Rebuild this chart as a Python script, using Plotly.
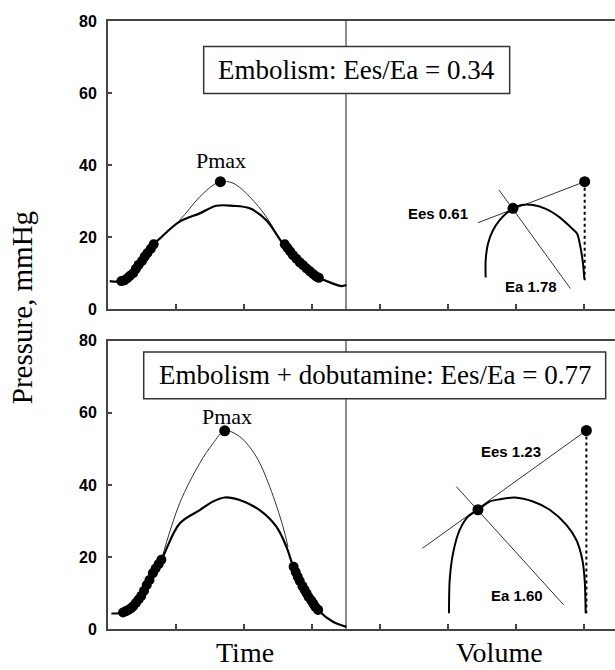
import plotly.graph_objects as go

# ---------------- data (x in axis units: left half = time, right half = volume) -------------
# Top panel: Embolism
top_meas_x = [0.025, 0.197, 0.368, 0.515, 0.672, 0.760, 1.054, 1.349, 1.594, 1.834, 2.084, 2.329, 2.574,
              2.599, 2.721, 2.868, 3.015, 3.103, 3.309, 3.432, 3.506]
top_meas_p = [7.8, 7.8, 9.9, 13.6, 18.0, 19.6, 24.3, 26.6, 28.7, 28.7, 28.0, 24.7, 18.2,
              18.0, 15.0, 12.2, 9.7, 8.7, 7.1, 6.4, 6.7]
top_model_x = [0.760, 1.054, 1.349, 1.544, 1.653, 1.838, 2.084, 2.329, 2.476]
top_model_p = [19.6, 24.7, 31.2, 34.4, 35.4, 35.0, 31.2, 25.6, 21.0]
top_dots_up_x = [0.197, 0.24, 0.28, 0.32, 0.37, 0.41, 0.45, 0.50, 0.54, 0.58, 0.63, 0.672]
top_dots_up_p = [7.8, 8.0, 8.5, 9.2, 10.0, 11.2, 12.3, 13.4, 14.6, 15.6, 16.8, 18.0]
top_dots_dn_x = [2.60, 2.64, 2.68, 2.72, 2.77, 2.82, 2.87, 2.92, 2.97, 3.02, 3.06, 3.10]
top_dots_dn_p = [18.0, 17.0, 16.0, 15.0, 14.0, 13.0, 12.2, 11.3, 10.5, 9.7, 9.1, 8.7]
top_pmax = (1.653, 35.4)
top_loop_v = [5.554, 5.554, 5.588, 5.662, 5.760, 5.859, 5.956, 6.079, 6.250, 6.447, 6.643, 6.790,
              6.897, 6.947, 6.985, 7.005]
top_loop_p = [8.8, 13.6, 18.2, 21.9, 24.7, 26.6, 28.0, 28.9, 28.9, 27.8, 25.5, 23.0, 21.0, 17.3, 12.7, 8.5]
top_esp = (5.956, 28.0)
top_ved_pmax = (7.010, 35.4)
top_ved_bottom = 8.0
top_ees_line = ([5.441, 7.010], [24.0, 35.4])
top_ea_line = ([5.750, 6.800], [33.1, 5.75])

# Bottom panel: Embolism + dobutamine
bot_meas_x = [0.05, 0.221, 0.368, 0.515, 0.662, 0.785, 1.054, 1.349, 1.544, 1.716, 1.937, 2.231, 2.476,
              2.624, 2.721, 2.819, 2.918, 3.015, 3.088, 3.309, 3.506]
bot_meas_p = [4.3, 4.6, 6.2, 9.9, 15.5, 19.2, 29.3, 33.0, 35.4, 36.5, 35.8, 33.0, 28.4,
              22.8, 17.5, 13.6, 9.9, 7.1, 5.3, 2.0, 0.6]
bot_model_x = [0.785, 1.054, 1.349, 1.544, 1.716, 1.937, 2.182, 2.378, 2.574, 2.647]
bot_model_p = [19.2, 34.9, 46.0, 51.5, 55.0, 53.4, 47.8, 39.5, 28.4, 22.8]
bot_dots_up_x = [0.221, 0.26, 0.30, 0.34, 0.37, 0.41, 0.45, 0.49, 0.53, 0.57, 0.61, 0.66, 0.70, 0.745, 0.785]
bot_dots_up_p = [4.6, 4.9, 5.3, 5.8, 6.3, 7.2, 8.2, 9.2, 10.6, 12.2, 13.6, 15.5, 16.8, 18.0, 19.2]
bot_dots_dn_x = [2.73, 2.76, 2.79, 2.82, 2.86, 2.89, 2.92, 2.95, 2.99, 3.02, 3.05, 3.09]
bot_dots_dn_p = [17.3, 15.8, 14.5, 13.3, 11.9, 10.9, 9.9, 8.9, 7.9, 7.0, 6.1, 5.3]
bot_pmax = (1.716, 55.0)
bot_loop_v = [5.015, 5.025, 5.074, 5.172, 5.294, 5.441, 5.613, 5.760, 5.981, 6.250, 6.496, 6.741,
              6.888, 6.976, 7.010, 7.025]
bot_loop_p = [4.35, 13.6, 21.0, 27.5, 31.2, 33.1, 35.4, 36.0, 36.5, 35.4, 33.1, 28.9, 24.7, 19.2, 13.6, 4.35]
bot_esp = (5.441, 33.1)
bot_ved_pmax = (7.035, 55.1)
bot_ved_bottom = 4.35
bot_ees_line = ([4.624, 7.035], [22.4, 55.1])
bot_ea_line = ([5.124, 6.701], [39.5, 6.7])

y_ticks = [0, 20, 40, 60, 80]
x_ticks = [1, 2, 3, 4, 5, 6, 7]

# ---------------- figure ----------------
fig = go.Figure()
SERIF = "Liberation Serif, Times New Roman, serif"
SANS = "Liberation Sans, Arial, sans-serif"
DOT = 10


def add_panel(xa, ya, meas_x, meas_p, model_x, model_p, up_x, up_p, dn_x, dn_p, pmax,
              loop_v, loop_p, esp, ved_pmax, ved_bottom, ees_line, ea_line):
    kw = dict(xaxis=xa, yaxis=ya, showlegend=False, hoverinfo="skip")
    fig.add_trace(go.Scatter(x=model_x, y=model_p, mode="lines",
                             line=dict(color="#333333", width=1, shape="spline"), **kw))
    fig.add_trace(go.Scatter(x=meas_x, y=meas_p, mode="lines",
                             line=dict(color="black", width=2.2, shape="spline"), **kw))
    fig.add_trace(go.Scatter(x=up_x + dn_x, y=up_p + dn_p, mode="markers",
                             marker=dict(color="black", size=DOT), **kw))
    fig.add_trace(go.Scatter(x=[pmax[0]], y=[pmax[1]], mode="markers",
                             marker=dict(color="black", size=11), **kw))
    # PV loop
    fig.add_trace(go.Scatter(x=ees_line[0], y=ees_line[1], mode="lines",
                             line=dict(color="#333333", width=1), **kw))
    fig.add_trace(go.Scatter(x=ea_line[0], y=ea_line[1], mode="lines",
                             line=dict(color="#333333", width=1), **kw))
    fig.add_trace(go.Scatter(x=loop_v, y=loop_p, mode="lines",
                             line=dict(color="black", width=2, shape="spline", smoothing=0.8), **kw))
    fig.add_trace(go.Scatter(x=[ved_pmax[0], ved_pmax[0]], y=[ved_pmax[1], ved_bottom], mode="lines",
                             line=dict(color="black", width=2, dash="dot"), **kw))
    fig.add_trace(go.Scatter(x=[esp[0], ved_pmax[0]], y=[esp[1], ved_pmax[1]], mode="markers",
                             marker=dict(color="black", size=11), **kw))


add_panel("x", "y", top_meas_x, top_meas_p, top_model_x, top_model_p, top_dots_up_x, top_dots_up_p,
          top_dots_dn_x, top_dots_dn_p, top_pmax, top_loop_v, top_loop_p, top_esp, top_ved_pmax,
          top_ved_bottom, top_ees_line, top_ea_line)
add_panel("x2", "y2", bot_meas_x, bot_meas_p, bot_model_x, bot_model_p, bot_dots_up_x, bot_dots_up_p,
          bot_dots_dn_x, bot_dots_dn_p, bot_pmax, bot_loop_v, bot_loop_p, bot_esp, bot_ved_pmax,
          bot_ved_bottom, bot_ees_line, bot_ea_line)

AX = "#444444"
xcommon = dict(range=[0, 7.456], tickvals=x_ticks, ticks="inside", ticklen=5, tickwidth=1.5, tickcolor=AX,
               showticklabels=False, showline=True, linecolor=AX, linewidth=2, mirror=True,
               showgrid=False, zeroline=False, domain=[0, 1])
ycommon = dict(range=[0, 80], tickvals=y_ticks, ticks="inside", ticklen=4, tickwidth=1.5, tickcolor=AX,
               showline=True, linecolor=AX, linewidth=2, showgrid=False, zeroline=False,
               tickfont=dict(family=SANS, size=16, color="black", weight="bold"), ticklabelstandoff=6)

fig.update_layout(
    width=615, height=670,
    margin=dict(l=108, r=0, t=21, b=41),
    paper_bgcolor="white", plot_bgcolor="white",
    showlegend=False,
    xaxis=dict(anchor="y", **xcommon),
    yaxis=dict(anchor="x", domain=[0.526, 1], **ycommon),
    xaxis2=dict(anchor="y2", **xcommon),
    yaxis2=dict(anchor="x2", domain=[0, 0.474], **ycommon),
)

shapes = []
for xa, ya in (("x", "y"), ("x2", "y2")):
    shapes.append(dict(type="line", xref=xa, yref=ya, x0=3.5, x1=3.5, y0=0, y1=80,
                       line=dict(color="#666666", width=1.5), layer="below"))
shapes.append(dict(type="rect", xref="x", yref="y", x0=1.407, x1=5.907, y0=59.9, y1=72.9,
                   line=dict(color="#333333", width=1.5), fillcolor="white", layer="above"))
shapes.append(dict(type="rect", xref="x2", yref="y2", x0=0.525, x1=7.319, y0=63.9, y1=76.9,
                   line=dict(color="#333333", width=1.5), fillcolor="white", layer="above"))
fig.update_layout(shapes=shapes)

ann = [
    dict(text="Embolism: Ees/Ea = 0.34", xref="x", yref="y", x=3.657, y=66.4,
         font=dict(family=SERIF, size=27, color="black")),
    dict(text="Embolism + dobutamine: Ees/Ea = 0.77", xref="x2", yref="y2", x=3.922, y=70.4,
         font=dict(family=SERIF, size=27, color="black")),
    dict(text="Pmax", xref="x", yref="y", x=1.66, y=41.4, font=dict(family=SERIF, size=22, color="black")),
    dict(text="Pmax", xref="x2", yref="y2", x=1.75, y=59.0, font=dict(family=SERIF, size=22, color="black")),
    dict(text="<b>Ees 0.61</b>", xref="x", yref="y", x=5.319, y=26.6, xanchor="right",
         font=dict(family=SANS, size=15, color="black")),
    dict(text="<b>Ea 1.78</b>", xref="x", yref="y", x=6.224, y=6.4,
         font=dict(family=SANS, size=15, color="black")),
    dict(text="<b>Ees 1.23</b>", xref="x2", yref="y2", x=5.926, y=49.4,
         font=dict(family=SANS, size=15, color="black")),
    dict(text="<b>Ea 1.60</b>", xref="x2", yref="y2", x=6.013, y=9.4,
         font=dict(family=SANS, size=15, color="black")),
    dict(text="Time", xref="x2", yref="paper", x=2.01, y=-0.0385,
         font=dict(family=SERIF, size=28, color="black")),
    dict(text="Volume", xref="x2", yref="paper", x=5.76, y=-0.0385,
         font=dict(family=SERIF, size=28, color="black")),
    dict(text="Pressure, mmHg", xref="paper", yref="paper", x=-0.168, y=0.529, textangle=-90,
         font=dict(family=SERIF, size=29, color="black")),
]
for a in ann:
    a.setdefault("showarrow", False)
    a.setdefault("xanchor", "center")
    a.setdefault("yanchor", "middle")
fig.update_layout(annotations=ann)

fig.write_html("out.html")
